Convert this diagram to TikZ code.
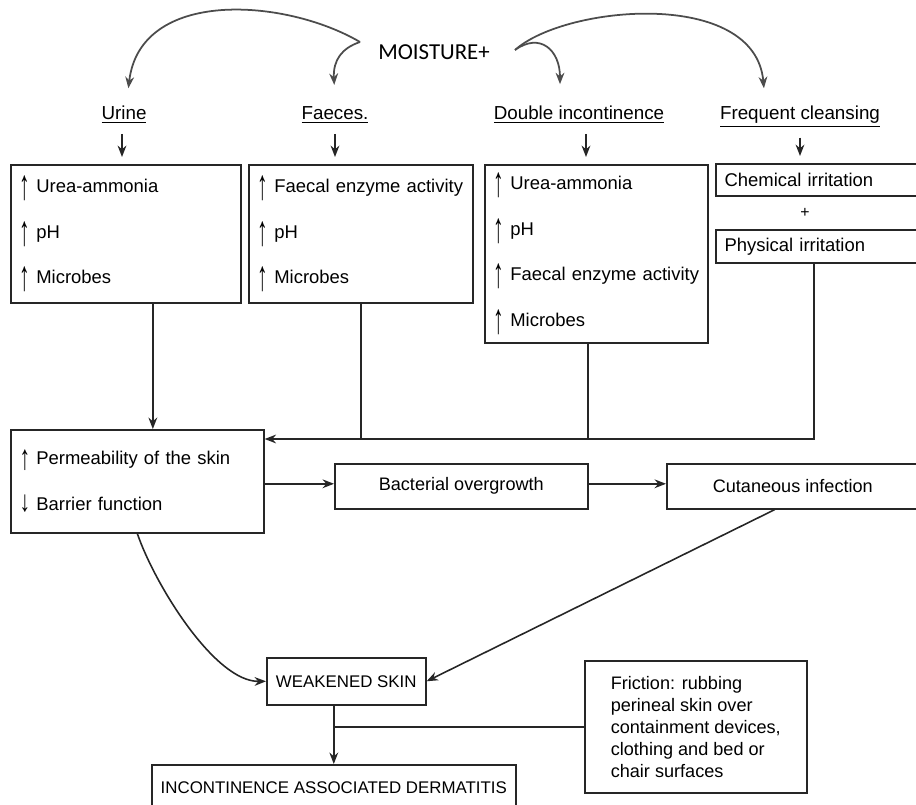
\documentclass[tikz,border=0pt]{standalone}
\usepackage{fontspec}
\setmainfont{Liberation Sans}
\newfontfamily\moistfont{Carlito}
\usepackage{graphicx}
\usetikzlibrary{arrows.meta}

% tall arrows in front of the list items
\newcommand{\upar}[2][2.3]{\raisebox{#2}{\scalebox{1.15}[#1]{↑}}}
\newcommand{\dnar}{\raisebox{-1pt}{\scalebox{1.15}[1.6]{↓}}}

\begin{document}
\begin{tikzpicture}[x=0.2mm, y=-0.2mm,
  >={Stealth[length=6.5pt,width=5pt]},
  % box styles
  listbox/.style={draw=black!85, line width=0.9pt, anchor=north west, align=left, inner xsep=5pt, font=\fontsize{10.5}{26}\selectfont},
  flatbox/.style={draw=black!85, line width=0.9pt, anchor=north west, align=center, font=\fontsize{10.3}{12.5}\selectfont},
  capsbox/.style={flatbox, font=\fontsize{9.6}{12}\selectfont},
  cause/.style={anchor=base, font=\fontsize{10.7}{13}\selectfont},
  % connector styles
  link/.style={draw=black!85, line width=0.9pt},
  flow/.style={link, ->},
  curveflow/.style={draw=black!70, line width=1pt, ->}
]
\useasboundingbox (0,0) rectangle (916,805);

% top: moisture and its four causes
\node[font=\moistfont\fontsize{13}{15}\selectfont] (moist) at (434,52) {MOISTURE+};
\coordinate (mleft) at (360,42);
\coordinate (mright) at (515,50);

\node[cause] (urine) at (124,120) {\underline{Urine}};
\node[cause] (faeces) at (335,120) {\underline{Faeces.}};
\node[cause] (dinc) at (579,120) {\underline{Double incontinence}};
\node[cause] (clean) at (800,120) {\underline{Frequent cleansing}};

\draw[curveflow, shorten >=2.4mm] (mleft) .. controls (285,-2) and (140,-12) .. ([xshift=0.6mm]urine.north);
\draw[curveflow, shorten >=3.2mm] (mleft) .. controls (342,48) and (333,60) .. (faeces.north);
\draw[curveflow, shorten >=3.2mm] (mright) .. controls (540,32) and (560,50) .. ([xshift=-3.8mm]dinc.north);
\draw[curveflow, shorten >=2.4mm] (mright) .. controls (565,5) and (755,-12) .. ([xshift=-7mm]clean.north);

% effect boxes
\node[listbox, text width=42.5mm, minimum height=27.6mm] (ubox) at (10,164) {\upar{-4pt}\ Urea-ammonia\\ \upar{-4pt}\ pH\\ \upar{-4pt}\ Microbes};
\node[listbox, text width=41.3mm, minimum height=27.6mm] (fbox) at (248,164) {\upar{-4pt}\ Faecal enzyme activity\\ \upar{-4pt}\ pH\\ \upar{-4pt}\ Microbes};
\node[listbox, text width=41.1mm, minimum height=35.6mm] (dbox) at (484,164) {\upar{-4pt}\ Urea-ammonia\\ \upar{-4pt}\ pH\\ \upar{-4pt}\ Faecal enzyme activity\\ \upar{-4pt}\ Microbes};
\node[listbox, text width=39.5mm, minimum height=6.4mm] (chem) at (715,163) {Chemical irritation};
\node[font=\fontsize{9}{10}\selectfont] (plus) at (805,213) {+};
\node[listbox, text width=39.5mm, minimum height=6.6mm] (phys) at (715,229) {Physical irritation};

\draw[flow, shorten <=0.8mm, shorten >=1.4mm] ([xshift=-0.4mm]urine.south) -- ([xshift=-0.4mm]urine.south |- ubox.north);
\draw[flow, shorten <=0.8mm, shorten >=1.4mm] (faeces.south) -- (faeces.south |- fbox.north);
\draw[flow, shorten <=0.8mm, shorten >=1.4mm] ([xshift=1.4mm]dinc.south) -- ([xshift=1.4mm]dinc.south |- dbox.north);
\draw[flow, shorten <=0.8mm, shorten >=1.4mm] (clean.south) -- (clean.south |- chem.north);

% skin level
\node[listbox, text width=47.1mm, minimum height=20.6mm] (perm) at (10,429) {\upar[1.9]{-3pt}\ Permeability of the skin\\ \dnar\ Barrier function};
\node[flatbox, minimum width=50.6mm, minimum height=9mm] (bact) at (334,463) {Bacterial overgrowth};
\node[flatbox, minimum width=50.4mm, minimum height=9mm] (cut) at (666,463) {Cutaneous infection};
\coordinate (merge) at ([yshift=-2mm]perm.north east);

\draw[flow] ([xshift=5.4mm]ubox.south) -- ([xshift=5.4mm]ubox.south |- perm.north);
\draw[link] (fbox.south) -- (fbox.south |- merge);
\draw[link] ([xshift=-1.7mm]dbox.south) -- ([xshift=-1.7mm]dbox.south |- merge);
\draw[flow] ([xshift=-1.9mm]phys.south) |- (merge);
\draw[flow] ([yshift=0.5mm]perm.east |- bact.west) -- ([yshift=0.5mm]bact.west);
\draw[flow] ([yshift=0.5mm]bact.east) -- ([yshift=0.5mm]cut.west);

% bottom
\node[capsbox, minimum width=31.8mm, minimum height=9.4mm] (weak) at (266,657) {WEAKENED SKIN};
\node[flatbox, align=left, minimum width=44.4mm, minimum height=26.4mm] (fric) at (584,660) {Friction: rubbing\\perineal skin over\\containment devices,\\clothing and bed or\\chair surfaces};
\node[capsbox, minimum width=72.8mm, minimum height=9.2mm] (iad) at (151,764) {INCONTINENCE ASSOCIATED DERMATITIS};

\draw[flow] (perm.south) .. controls (155,585) and (215,682) .. (weak.west);
\draw[flow] ([xshift=-3.6mm]cut.south) -- (weak.east);
\draw[flow] (weak.south -| iad.north) -- (iad.north);
\draw[link] (fric.west) -- (fric.west -| iad.north);

\end{tikzpicture}
\end{document}
